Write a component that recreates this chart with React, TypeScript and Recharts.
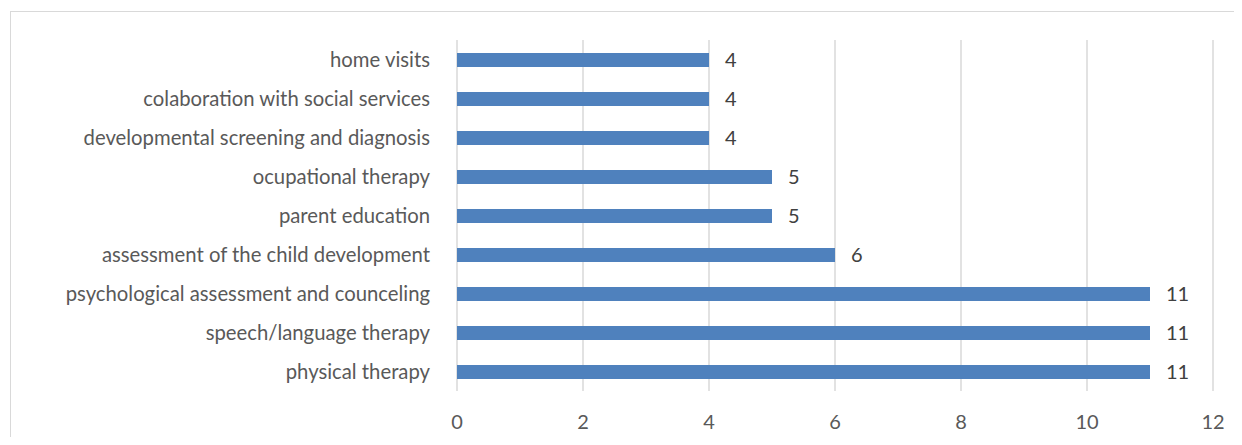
import { BarChart, Bar, XAxis, YAxis, CartesianGrid, LabelList } from "recharts";

const services = [
  "home visits",
  "colaboration with social services",
  "developmental screening and diagnosis",
  "ocupational therapy",
  "parent education",
  "assessment of the child development",
  "psychological assessment and counceling",
  "speech/language therapy",
  "physical therapy",
];

const counts = [4, 4, 4, 5, 5, 6, 11, 11, 11];

const xTicks = [0, 2, 4, 6, 8, 10, 12];

const data = services.map((name, i) => ({ name, value: counts[i] }));

const FONT = "Lato, 'Open Sans', sans-serif";
const TEXT = "#595959";

export default function App() {
  return (
    <div
      style={{
        margin: -8,
        width: 1242,
        height: 445,
        position: "relative",
        overflow: "hidden",
        background: "#fff",
        fontFamily: FONT,
      }}
    >
      <div
        style={{
          position: "absolute",
          left: 10,
          top: 11,
          width: 1260,
          height: 460,
          borderLeft: "1px solid #d9d9d9",
          borderTop: "1px solid #d9d9d9",
        }}
      />
      <div style={{ position: "absolute", left: 0, top: 0 }}>
        <BarChart
          width={1242}
          height={445}
          layout="vertical"
          data={data}
          margin={{ top: 40, right: 29, bottom: 24, left: 0 }}
        >
          <CartesianGrid horizontal={false} stroke="#d9d9d9" strokeWidth={1.5} />
          <XAxis
            type="number"
            domain={[0, 12]}
            ticks={xTicks}
            axisLine={false}
            tickLine={false}
            tickSize={0}
            tickMargin={24}
            height={30}
            tick={{ fill: TEXT, fontSize: 20, fontFamily: FONT }}
          />
          <YAxis
            type="category"
            dataKey="name"
            width={457}
            axisLine={false}
            tickLine={false}
            tickSize={0}
            tickMargin={27}
            interval={0}
            tick={{ fill: TEXT, fontSize: 20.3, fontFamily: FONT }}
          />
          <Bar dataKey="value" fill="#4f81bd" barSize={14} isAnimationActive={false}>
            <LabelList
              dataKey="value"
              position="right"
              offset={16}
              fill="#404040"
              fontSize={20}
              fontFamily={FONT}
            />
          </Bar>
        </BarChart>
      </div>
    </div>
  );
}
